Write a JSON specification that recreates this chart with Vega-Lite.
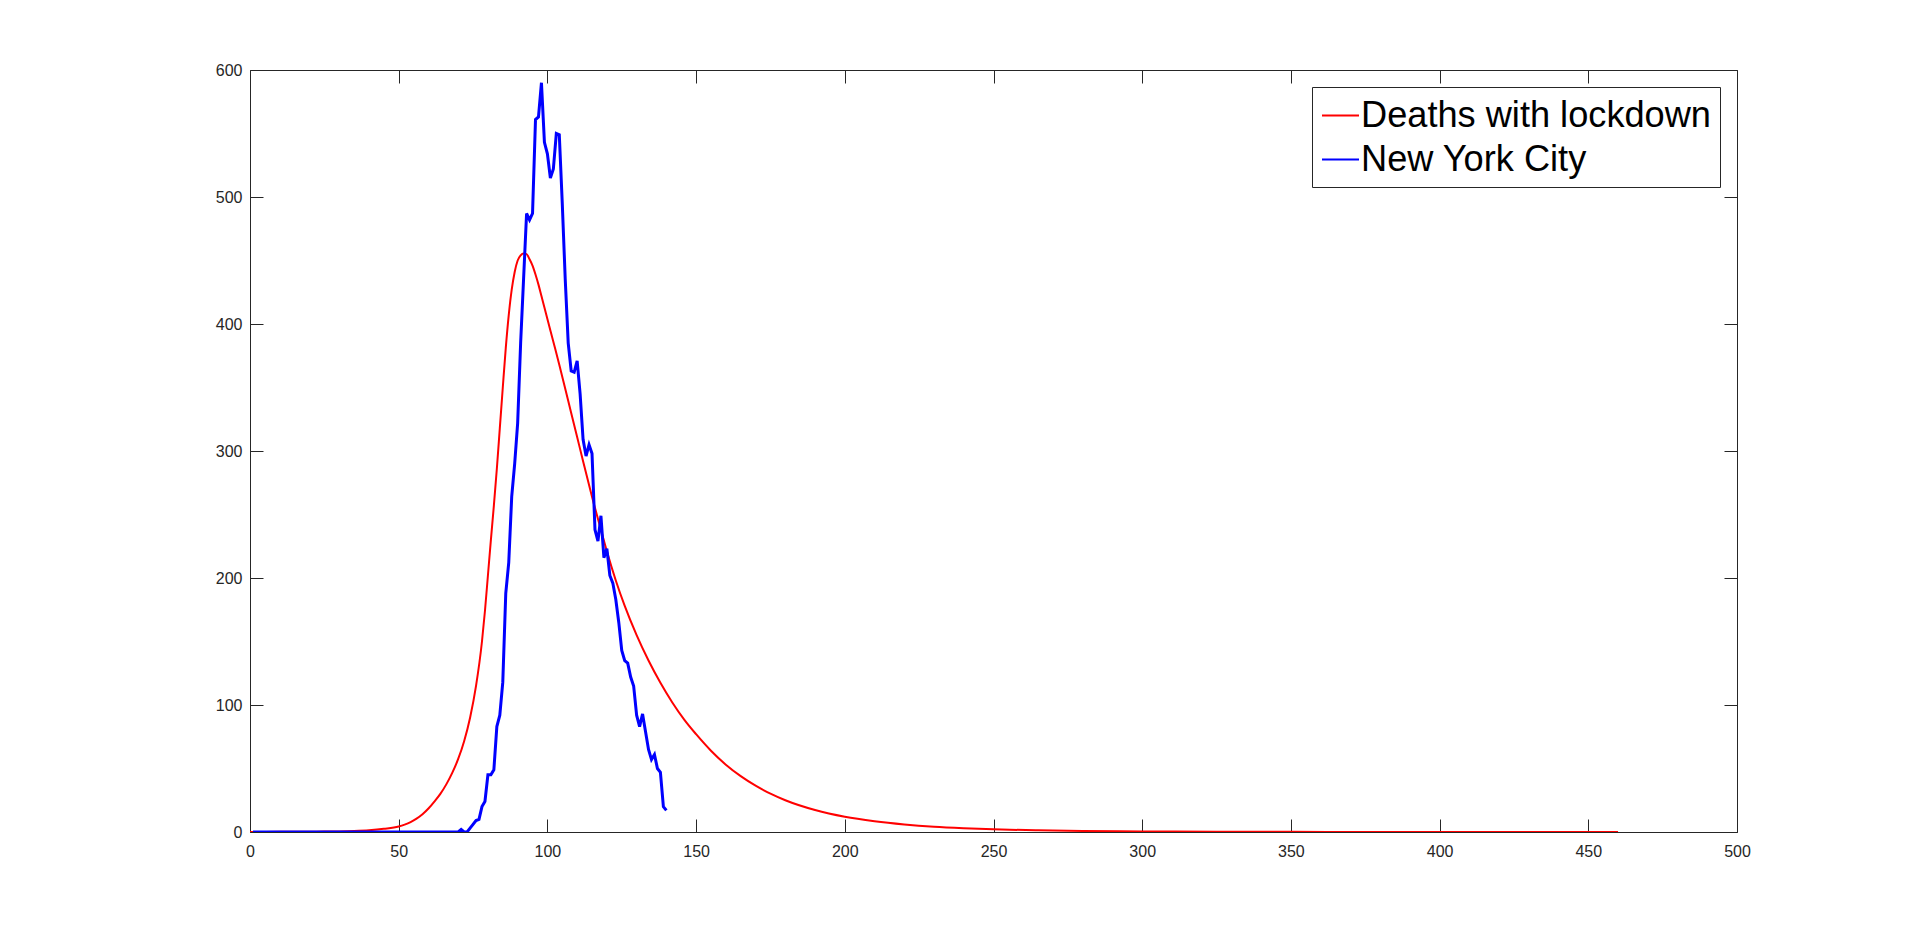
{
  "$schema": "https://vega.github.io/schema/vega-lite/v6.json",
  "width": 1487,
  "height": 762,
  "autosize": "none",
  "padding": {"left": 250, "top": 70, "right": 183, "bottom": 104},
  "background": "white",
  "config": {
    "view": {"stroke": null},
    "axis": {
      "grid": false,
      "labelFont": "Liberation Sans",
      "labelFontSize": 16,
      "labelColor": "#262626",
      "tickColor": "#262626",
      "domainColor": "#262626",
      "domainWidth": 1,
      "tickWidth": 1,
      "tickSize": -13,
      "title": null
    },
    "legend": {
      "orient": "none",
      "legendX": 1062,
      "legendY": 17,
      "strokeColor": "#262626",
      "fillColor": "white",
      "padding": 9,
      "labelFont": "Liberation Sans",
      "labelFontSize": 36.2,
      "labelColor": "black",
      "labelLimit": 600,
      "symbolType": "stroke",
      "symbolSize": 1369,
      "symbolStrokeWidth": 2,
      "rowPadding": 6,
      "labelOffset": 1,
      "title": null,
      "cornerRadius": 0
    }
  },
  "datasets": {
    "model": [
      {"day": 0, "value": 0.05}, {"day": 10, "value": 0.1}, {"day": 20, "value": 0.2}, {"day": 25, "value": 0.3},
      {"day": 30, "value": 0.45}, {"day": 35, "value": 0.8}, {"day": 40, "value": 1.4}, {"day": 45, "value": 2.5},
      {"day": 50, "value": 4.3}, {"day": 52, "value": 5.8}, {"day": 54, "value": 7.8}, {"day": 56, "value": 10.5},
      {"day": 58, "value": 14}, {"day": 60, "value": 18.5}, {"day": 62, "value": 24}, {"day": 64, "value": 30},
      {"day": 66, "value": 37.5}, {"day": 68, "value": 46.5}, {"day": 70, "value": 57.5}, {"day": 72, "value": 71.5},
      {"day": 74, "value": 90}, {"day": 76, "value": 115}, {"day": 78, "value": 150}, {"day": 79, "value": 174},
      {"day": 80, "value": 202}, {"day": 81, "value": 230}, {"day": 82, "value": 257},
      {"day": 83, "value": 286}, {"day": 84, "value": 318}, {"day": 85, "value": 350}, {"day": 86, "value": 381},
      {"day": 87, "value": 407}, {"day": 88, "value": 427}, {"day": 89, "value": 441}, {"day": 90, "value": 450},
      {"day": 91, "value": 454}, {"day": 92, "value": 455.5}, {"day": 93, "value": 455}, {"day": 94, "value": 451},
      {"day": 95, "value": 446}, {"day": 96, "value": 439}, {"day": 97, "value": 431}, {"day": 98, "value": 422},
      {"day": 99, "value": 413}, {"day": 100, "value": 404}, {"day": 102, "value": 386}, {"day": 104, "value": 368},
      {"day": 106, "value": 349}, {"day": 108, "value": 330}, {"day": 110, "value": 311}, {"day": 112, "value": 292},
      {"day": 115, "value": 264}, {"day": 118, "value": 238}, {"day": 120, "value": 221}, {"day": 123, "value": 198},
      {"day": 126, "value": 178}, {"day": 130, "value": 155}, {"day": 134, "value": 135}, {"day": 138, "value": 117.5},
      {"day": 142, "value": 102}, {"day": 146, "value": 88.5}, {"day": 150, "value": 77}, {"day": 155, "value": 64},
      {"day": 160, "value": 53}, {"day": 165, "value": 44}, {"day": 170, "value": 36.5}, {"day": 175, "value": 30.2},
      {"day": 180, "value": 25}, {"day": 190, "value": 17.3}, {"day": 200, "value": 12}, {"day": 210, "value": 8.5},
      {"day": 220, "value": 6}, {"day": 230, "value": 4.2}, {"day": 240, "value": 3}, {"day": 250, "value": 2.1},
      {"day": 265, "value": 1.3}, {"day": 280, "value": 0.8}, {"day": 300, "value": 0.45}, {"day": 325, "value": 0.25},
      {"day": 350, "value": 0.13}, {"day": 375, "value": 0.07}, {"day": 400, "value": 0.04}, {"day": 430, "value": 0.02},
      {"day": 460, "value": 0.01}
    ],
    "nyc": [
      {"day": 1, "value": 0}, {"day": 2, "value": 0}, {"day": 3, "value": 0}, {"day": 4, "value": 0}, {"day": 5, "value": 0},
      {"day": 6, "value": 0}, {"day": 7, "value": 0}, {"day": 8, "value": 0}, {"day": 9, "value": 0}, {"day": 10, "value": 0},
      {"day": 11, "value": 0}, {"day": 12, "value": 0}, {"day": 13, "value": 0}, {"day": 14, "value": 0}, {"day": 15, "value": 0},
      {"day": 16, "value": 0}, {"day": 17, "value": 0}, {"day": 18, "value": 0}, {"day": 19, "value": 0}, {"day": 20, "value": 0},
      {"day": 21, "value": 0}, {"day": 22, "value": 0}, {"day": 23, "value": 0}, {"day": 24, "value": 0}, {"day": 25, "value": 0},
      {"day": 26, "value": 0}, {"day": 27, "value": 0}, {"day": 28, "value": 0}, {"day": 29, "value": 0}, {"day": 30, "value": 0},
      {"day": 31, "value": 0}, {"day": 32, "value": 0}, {"day": 33, "value": 0}, {"day": 34, "value": 0}, {"day": 35, "value": 0},
      {"day": 36, "value": 0}, {"day": 37, "value": 0}, {"day": 38, "value": 0}, {"day": 39, "value": 0}, {"day": 40, "value": 0},
      {"day": 41, "value": 0}, {"day": 42, "value": 0}, {"day": 43, "value": 0}, {"day": 44, "value": 0}, {"day": 45, "value": 0},
      {"day": 46, "value": 0}, {"day": 47, "value": 0}, {"day": 48, "value": 0}, {"day": 49, "value": 0}, {"day": 50, "value": 0},
      {"day": 51, "value": 0}, {"day": 52, "value": 0}, {"day": 53, "value": 0}, {"day": 54, "value": 0}, {"day": 55, "value": 0},
      {"day": 56, "value": 0}, {"day": 57, "value": 0}, {"day": 58, "value": 0}, {"day": 59, "value": 0}, {"day": 60, "value": 0},
      {"day": 61, "value": 0}, {"day": 62, "value": 0}, {"day": 63, "value": 0}, {"day": 64, "value": 0}, {"day": 65, "value": 0},
      {"day": 66, "value": 0}, {"day": 67, "value": 0}, {"day": 68, "value": 0}, {"day": 69, "value": 0}, {"day": 70, "value": 0},
      {"day": 71, "value": 2}, {"day": 72, "value": 0}, {"day": 73, "value": 0}, {"day": 74, "value": 3}, {"day": 75, "value": 6},
      {"day": 76, "value": 9}, {"day": 77, "value": 10}, {"day": 78, "value": 20}, {"day": 79, "value": 24}, {"day": 80, "value": 45},
      {"day": 81, "value": 45}, {"day": 82, "value": 49}, {"day": 83, "value": 83}, {"day": 84, "value": 92}, {"day": 85, "value": 118},
      {"day": 86, "value": 188}, {"day": 87, "value": 212}, {"day": 88, "value": 264}, {"day": 89, "value": 290}, {"day": 90, "value": 322},
      {"day": 91, "value": 385}, {"day": 92, "value": 436}, {"day": 93, "value": 487}, {"day": 94, "value": 482}, {"day": 95, "value": 487},
      {"day": 96, "value": 561}, {"day": 97, "value": 563}, {"day": 98, "value": 590}, {"day": 99, "value": 543}, {"day": 100, "value": 534},
      {"day": 101, "value": 515}, {"day": 102, "value": 522}, {"day": 103, "value": 550}, {"day": 104, "value": 549}, {"day": 105, "value": 495},
      {"day": 106, "value": 435}, {"day": 107, "value": 385}, {"day": 108, "value": 363}, {"day": 109, "value": 362}, {"day": 110, "value": 371},
      {"day": 111, "value": 345}, {"day": 112, "value": 309}, {"day": 113, "value": 296}, {"day": 114, "value": 305}, {"day": 115, "value": 298},
      {"day": 116, "value": 238}, {"day": 117, "value": 229}, {"day": 118, "value": 249}, {"day": 119, "value": 216}, {"day": 120, "value": 223},
      {"day": 121, "value": 202}, {"day": 122, "value": 196}, {"day": 123, "value": 183}, {"day": 124, "value": 165}, {"day": 125, "value": 143},
      {"day": 126, "value": 135}, {"day": 127, "value": 133}, {"day": 128, "value": 122}, {"day": 129, "value": 115}, {"day": 130, "value": 92},
      {"day": 131, "value": 83}, {"day": 132, "value": 93}, {"day": 133, "value": 79}, {"day": 134, "value": 65}, {"day": 135, "value": 57},
      {"day": 136, "value": 61}, {"day": 137, "value": 50}, {"day": 138, "value": 47}, {"day": 139, "value": 20}, {"day": 140, "value": 17}
    ]
  },
  "resolve": {"axis": {"x": "independent", "y": "independent"}},
  "layer": [
    {
      "data": {"name": "model"},
      "mark": {"type": "line", "strokeWidth": 2, "interpolate": "monotone", "clip": true},
      "encoding": {
        "x": {"field": "day", "type": "quantitative", "scale": {"domain": [0, 500], "nice": false, "zero": false},
              "axis": {"orient": "bottom", "values": [0, 50, 100, 150, 200, 250, 300, 350, 400, 450, 500], "labelPadding": 24, "labelFlush": false}},
        "y": {"field": "value", "type": "quantitative", "scale": {"domain": [0, 600], "nice": false},
              "axis": {"orient": "left", "values": [0, 100, 200, 300, 400, 500, 600], "labelPadding": 21}},
        "color": {"datum": "Deaths with lockdown", "type": "nominal",
                  "scale": {"domain": ["Deaths with lockdown", "New York City"], "range": ["#FF0000", "#0000FF"]}}
      }
    },
    {
      "data": {"name": "nyc"},
      "mark": {"type": "line", "strokeWidth": 3, "clip": true},
      "encoding": {
        "x": {"field": "day", "type": "quantitative", "scale": {"domain": [0, 500], "nice": false, "zero": false},
              "axis": {"orient": "top", "values": [0, 50, 100, 150, 200, 250, 300, 350, 400, 450, 500], "labels": false}},
        "y": {"field": "value", "type": "quantitative", "scale": {"domain": [0, 600], "nice": false},
              "axis": {"orient": "right", "values": [0, 100, 200, 300, 400, 500, 600], "labels": false}},
        "color": {"datum": "New York City", "type": "nominal"}
      }
    }
  ]
}
